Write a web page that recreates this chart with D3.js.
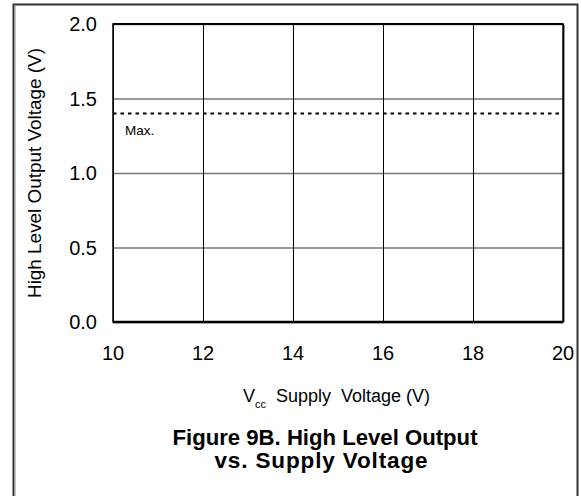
<!DOCTYPE html>
<html>
<head>
<meta charset="utf-8">
<script src="https://cdn.jsdelivr.net/npm/d3@7"></script>
<style>
  body { margin: 0; background: #fff; }
  svg { display: block; font-family: "Liberation Sans", Arial, sans-serif; }
</style>
</head>
<body>
<div id="chart"></div>
<script>
// x ticks (supply voltage) and y ticks (output voltage)
const xTicks = [10, 12, 14, 16, 18, 20];
const yTicks = [0.0, 0.5, 1.0, 1.5, 2.0];
// Max. limit line
const maxX = [10, 20];
const maxY = [1.4, 1.4];

const width = 581, height = 496;
const m = { left: 113, top: 24, right: 563, bottom: 322 };

const svg = d3.select("#chart").append("svg")
    .attr("width", width)
    .attr("height", height);

// outer frame
svg.append("rect")
    .attr("x", 13.5).attr("y", 4.5)
    .attr("width", 564).attr("height", 510)
    .attr("fill", "none")
    .attr("stroke", "#333")
    .attr("stroke-width", 2);
svg.append("line")
    .attr("x1", 15.5).attr("x2", 15.5).attr("y1", 6).attr("y2", height)
    .attr("stroke", "#c8c8c8");

const x = d3.scaleLinear().domain([10, 20]).range([m.left, m.right]);
const y = d3.scaleLinear().domain([0, 2]).range([m.bottom, m.top]);

// horizontal grid (gray)
svg.append("g")
    .attr("transform", `translate(${m.left},0)`)
    .call(d3.axisLeft(y).tickValues(yTicks).tickSize(-(m.right - m.left)).tickFormat(""))
    .call(g => g.select(".domain").remove())
    .call(g => g.selectAll("line").attr("stroke", "#777").attr("stroke-width", 1.5));

// vertical grid (black, thin)
svg.append("g")
    .attr("transform", `translate(0,${m.bottom})`)
    .call(d3.axisBottom(x).tickValues(xTicks).tickSize(-(m.bottom - m.top)).tickFormat(""))
    .call(g => g.select(".domain").remove())
    .call(g => g.selectAll("line").attr("stroke", "#000").attr("stroke-width", 1));

// plot frame
svg.append("line")
    .attr("x1", m.right + 1.5).attr("x2", m.right + 1.5)
    .attr("y1", m.top + 1).attr("y2", m.bottom)
    .attr("stroke", "#999");
svg.append("rect")
    .attr("x", m.left).attr("y", m.top)
    .attr("width", m.right - m.left).attr("height", m.bottom - m.top)
    .attr("fill", "none")
    .attr("stroke", "#000")
    .attr("stroke-width", 1.5);
svg.append("line")
    .attr("x1", m.left).attr("x2", m.right)
    .attr("y1", m.top).attr("y2", m.top)
    .attr("stroke", "#000").attr("stroke-width", 2);
svg.append("line")
    .attr("x1", m.left).attr("x2", m.right)
    .attr("y1", m.bottom).attr("y2", m.bottom)
    .attr("stroke", "#000").attr("stroke-width", 2.5);

// Max. dashed line
const line = d3.line().x(d => x(d[0])).y(d => y(d[1]));
svg.append("path")
    .datum(d3.zip(maxX, maxY))
    .attr("d", line)
    .attr("fill", "none")
    .attr("stroke", "#000")
    .attr("stroke-width", 2)
    .attr("stroke-dasharray", "3.5,4");

svg.append("text")
    .attr("x", x(10) + 12).attr("y", y(1.4) + 22)
    .attr("font-size", 13.5)
    .text("Max.");

// tick labels
svg.append("g")
    .selectAll("text")
    .data(yTicks)
    .join("text")
    .attr("x", m.left - 16)
    .attr("y", d => y(d))
    .attr("dy", "0.36em")
    .attr("text-anchor", "end")
    .attr("font-size", 20)
    .text(d3.format(".1f"));

svg.append("g")
    .selectAll("text")
    .data(xTicks)
    .join("text")
    .attr("x", d => x(d))
    .attr("y", 360)
    .attr("text-anchor", "middle")
    .attr("font-size", 20)
    .text(d => d);

// axis titles
svg.append("text")
    .attr("transform", `translate(41,${(m.top + m.bottom) / 2}) rotate(-90)`)
    .attr("text-anchor", "middle")
    .attr("font-size", 18.5)
    .attr("textLength", 250)
    .attr("lengthAdjust", "spacingAndGlyphs")
    .text("High Level Output Voltage (V)");

const xl = svg.append("text")
    .attr("y", 402)
    .attr("font-size", 18)
    .style("white-space", "pre");
xl.append("tspan").attr("x", 243).text("V");
xl.append("tspan").attr("font-size", 11).attr("dy", 6).text("cc");
xl.append("tspan").attr("x", 276).attr("dy", -6).text("Supply  Voltage (V)");

// figure caption
svg.append("text")
    .attr("x", 325).attr("y", 445)
    .attr("text-anchor", "middle")
    .attr("font-size", 22.5)
    .attr("font-weight", "bold")
    .attr("textLength", 305)
    .attr("lengthAdjust", "spacingAndGlyphs")
    .text("Figure 9B. High Level Output");
svg.append("text")
    .attr("x", 321).attr("y", 468)
    .attr("text-anchor", "middle")
    .attr("font-size", 22.5)
    .attr("font-weight", "bold")
    .attr("textLength", 213)
    .attr("lengthAdjust", "spacing")
    .text("vs. Supply Voltage");
</script>
</body>
</html>
